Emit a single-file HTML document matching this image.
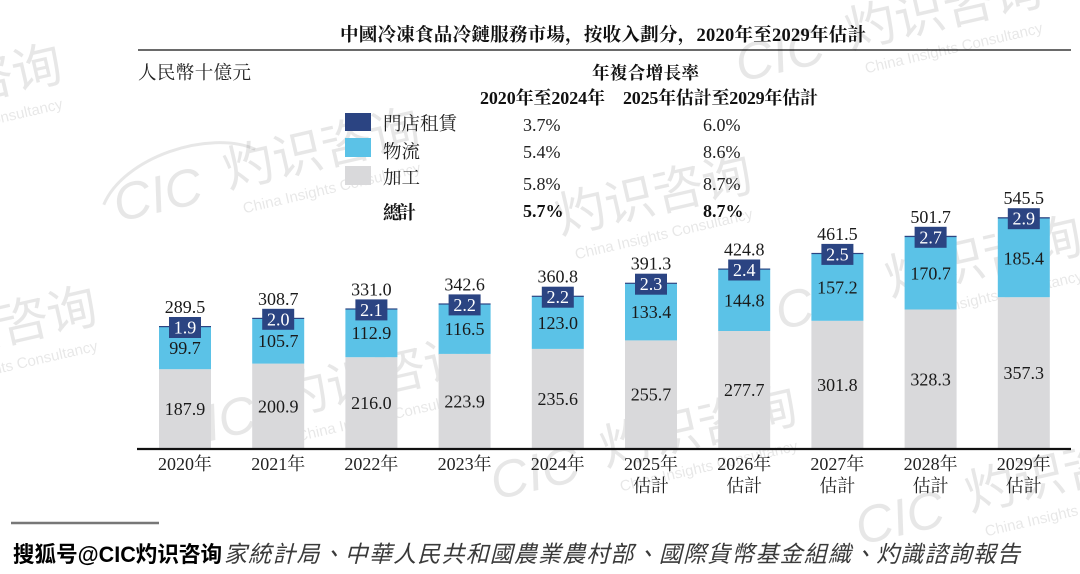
<!DOCTYPE html>
<html>
<head>
<meta charset="utf-8">
<style>
  html, body { margin:0; padding:0; background:#fff; }
  svg { display:block; }
  .serif { font-family: "Liberation Serif", "Noto Serif CJK SC", serif; }
  .sans { font-family: "Liberation Sans", "Noto Sans CJK TC", sans-serif; }
</style>
</head>
<body>
<svg width="1080" height="574" viewBox="0 0 1080 574" xmlns="http://www.w3.org/2000/svg">
  <rect x="0" y="0" width="1080" height="574" fill="#ffffff"/>

  <!-- Title -->
  <text class="serif" x="340" y="41" font-size="18.5" font-weight="bold" fill="#111" textLength="526">中國冷凍食品冷鏈服務市場，按收入劃分，2020年至2029年估計</text>
  <line x1="138" y1="50" x2="1071" y2="50" stroke="#6a6a6a" stroke-width="2"/>

  <text class="serif" x="138" y="79" font-size="18.5" fill="#222" textLength="113">人民幣十億元</text>

  <!-- CAGR header -->
  <text class="serif" x="592" y="79" font-size="17.5" font-weight="bold" fill="#111" textLength="107">年複合增長率</text>
  <text class="serif" x="480" y="104" font-size="18" font-weight="bold" fill="#111" textLength="125">2020年至2024年</text>
  <text class="serif" x="623" y="104" font-size="18" font-weight="bold" fill="#111" textLength="195">2025年估計至2029年估計</text>

  <!-- Watermarks -->
  <g class="sans" fill="#000" fill-opacity="0.095" stroke="none">
    <g transform="translate(118,222) rotate(-13)">
      <text x="0" y="0" font-size="52" font-style="italic">CIC</text>
      <path d="M-10,-20 C20,-62 110,-70 150,-40" fill="none" stroke="#000" stroke-opacity="0.095" stroke-width="3"/>
      <text x="115" y="-8" font-size="50">灼识咨询</text>
      <text x="125" y="20" font-size="15">China Insights Consultancy</text>
    </g>
    <g transform="translate(740,82) rotate(-13)">
      <text x="0" y="0" font-size="52" font-style="italic">CIC</text>
      <text x="115" y="-8" font-size="50">灼识咨询</text>
      <text x="125" y="20" font-size="15">China Insights Consultancy</text>
    </g>
    <g transform="translate(450,268) rotate(-13)">
      <text x="115" y="-8" font-size="50">灼识咨询</text>
      <text x="125" y="20" font-size="15">China Insights Consultancy</text>
    </g>
    <g transform="translate(780,330) rotate(-13)">
      <text x="0" y="0" font-size="52" font-style="italic">CIC</text>
      <text x="115" y="-8" font-size="50">灼识咨询</text>
      <text x="125" y="20" font-size="15">China Insights Consultancy</text>
    </g>
    <g transform="translate(172,450) rotate(-13)">
      <text x="0" y="0" font-size="52" font-style="italic">CIC</text>
      <text x="115" y="-8" font-size="50">灼识咨询</text>
      <text x="125" y="20" font-size="15">China Insights Consultancy</text>
    </g>
    <g transform="translate(495,500) rotate(-13)">
      <text x="0" y="0" font-size="52" font-style="italic">CIC</text>
      <text x="115" y="-8" font-size="50">灼识咨询</text>
      <text x="125" y="20" font-size="15">China Insights Consultancy</text>
    </g>
    <g transform="translate(860,545) rotate(-13)">
      <text x="0" y="0" font-size="52" font-style="italic">CIC</text>
      <text x="115" y="-8" font-size="50">灼识咨询</text>
      <text x="125" y="20" font-size="15">China Insights Consultancy</text>
    </g>
    <g transform="translate(-205,400) rotate(-13)">
      <text x="115" y="-8" font-size="50">灼识咨询</text>
      <text x="125" y="20" font-size="15">China Insights Consultancy</text>
    </g>
    <g transform="translate(-240,158) rotate(-13)">
      <text x="115" y="-8" font-size="50">灼识咨询</text>
      <text x="125" y="20" font-size="15">China Insights Consultancy</text>
    </g>
  </g>

  <!-- Legend -->
  <rect x="345" y="113" width="26" height="18" fill="#2b4482"/>
  <rect x="345" y="138" width="26" height="19" fill="#5bc2e7"/>
  <rect x="345" y="166" width="26" height="19" fill="#d9d9db"/>
  <text class="serif" x="383" y="130" font-size="18.5" fill="#222" textLength="74">門店租賃</text>
  <text class="serif" x="383" y="158" font-size="18.5" fill="#222" textLength="37">物流</text>
  <text class="serif" x="383" y="184" font-size="18.5" fill="#222" textLength="37">加工</text>
  <text class="serif" x="383" y="219" font-size="18.5" font-weight="bold" fill="#111" textLength="33">總計</text>

  <g class="serif" font-size="18" fill="#222">
    <text x="523" y="131">3.7%</text>
    <text x="523" y="158">5.4%</text>
    <text x="523" y="190">5.8%</text>
    <text x="523" y="217" font-weight="bold" fill="#111">5.7%</text>
    <text x="703" y="131">6.0%</text>
    <text x="703" y="158">8.6%</text>
    <text x="703" y="190">8.7%</text>
    <text x="703" y="217" font-weight="bold" fill="#111">8.7%</text>
  </g>

  <!-- Bars -->
  <g>
    <rect x="159" y="369.2" width="52" height="79.8" fill="#d9d9db"/>
    <rect x="159" y="326.8" width="52" height="42.4" fill="#5bc2e7"/>
    <rect x="159" y="326.0" width="52" height="1.2" fill="#2b4482"/>
    <rect x="252.2" y="363.6" width="52" height="85.4" fill="#d9d9db"/>
    <rect x="252.2" y="318.7" width="52" height="44.9" fill="#5bc2e7"/>
    <rect x="252.2" y="317.8" width="52" height="1.2" fill="#2b4482"/>
    <rect x="345.4" y="357.2" width="52" height="91.8" fill="#d9d9db"/>
    <rect x="345.4" y="309.2" width="52" height="48.0" fill="#5bc2e7"/>
    <rect x="345.4" y="308.4" width="52" height="1.2" fill="#2b4482"/>
    <rect x="438.6" y="353.9" width="52" height="95.1" fill="#d9d9db"/>
    <rect x="438.6" y="304.4" width="52" height="49.5" fill="#5bc2e7"/>
    <rect x="438.6" y="303.4" width="52" height="1.2" fill="#2b4482"/>
    <rect x="531.8" y="348.9" width="52" height="100.1" fill="#d9d9db"/>
    <rect x="531.8" y="296.6" width="52" height="52.3" fill="#5bc2e7"/>
    <rect x="531.8" y="295.7" width="52" height="1.2" fill="#2b4482"/>
    <rect x="625" y="340.4" width="52" height="108.6" fill="#d9d9db"/>
    <rect x="625" y="283.7" width="52" height="56.7" fill="#5bc2e7"/>
    <rect x="625" y="282.7" width="52" height="1.2" fill="#2b4482"/>
    <rect x="718.2" y="331.0" width="52" height="118.0" fill="#d9d9db"/>
    <rect x="718.2" y="269.5" width="52" height="61.5" fill="#5bc2e7"/>
    <rect x="718.2" y="268.5" width="52" height="1.2" fill="#2b4482"/>
    <rect x="811.4" y="320.8" width="52" height="128.2" fill="#d9d9db"/>
    <rect x="811.4" y="254.0" width="52" height="66.8" fill="#5bc2e7"/>
    <rect x="811.4" y="252.9" width="52" height="1.2" fill="#2b4482"/>
    <rect x="904.6" y="309.5" width="52" height="139.5" fill="#d9d9db"/>
    <rect x="904.6" y="237.0" width="52" height="72.5" fill="#5bc2e7"/>
    <rect x="904.6" y="235.8" width="52" height="1.3" fill="#2b4482"/>
    <rect x="997.8" y="297.2" width="52" height="151.8" fill="#d9d9db"/>
    <rect x="997.8" y="218.4" width="52" height="78.8" fill="#5bc2e7"/>
    <rect x="997.8" y="217.2" width="52" height="1.3" fill="#2b4482"/>
  </g>

  <!-- Navy label boxes -->
  <g fill="#2b4482">
    <rect x="169" y="317.0" width="32" height="21"/>
    <rect x="262.2" y="308.8" width="32" height="21"/>
    <rect x="355.4" y="299.4" width="32" height="21"/>
    <rect x="448.6" y="294.4" width="32" height="21"/>
    <rect x="541.8" y="286.7" width="32" height="21"/>
    <rect x="635" y="273.7" width="32" height="21"/>
    <rect x="728.2" y="259.5" width="32" height="21"/>
    <rect x="821.4" y="243.9" width="32" height="21"/>
    <rect x="914.6" y="226.8" width="32" height="21"/>
    <rect x="1007.8" y="208.2" width="32" height="21"/>
  </g>
  <g class="serif" font-size="18" fill="#ffffff" text-anchor="middle">
    <text x="185" y="333.5">1.9</text>
    <text x="278.2" y="325.3">2.0</text>
    <text x="371.4" y="315.9">2.1</text>
    <text x="464.6" y="310.9">2.2</text>
    <text x="557.8" y="303.2">2.2</text>
    <text x="651" y="290.2">2.3</text>
    <text x="744.2" y="276.0">2.4</text>
    <text x="837.4" y="260.4">2.5</text>
    <text x="930.6" y="243.3">2.7</text>
    <text x="1023.8" y="224.7">2.9</text>
  </g>

  <!-- Totals -->
  <g class="serif" font-size="18" fill="#1a1a1a" text-anchor="middle">
    <text x="185" y="313">289.5</text>
    <text x="278.2" y="304.8">308.7</text>
    <text x="371.4" y="295.4">331.0</text>
    <text x="464.6" y="290.4">342.6</text>
    <text x="557.8" y="282.7">360.8</text>
    <text x="651" y="269.7">391.3</text>
    <text x="744.2" y="255.5">424.8</text>
    <text x="837.4" y="239.9">461.5</text>
    <text x="930.6" y="222.8">501.7</text>
    <text x="1023.8" y="204.2">545.5</text>
  </g>

  <!-- Blue segment labels -->
  <g class="serif" font-size="18" fill="#1a1a1a" text-anchor="middle">
    <text x="185" y="354">99.7</text>
    <text x="278.2" y="347.2">105.7</text>
    <text x="371.4" y="339.2">112.9</text>
    <text x="464.6" y="335.2">116.5</text>
    <text x="557.8" y="328.8">123.0</text>
    <text x="651" y="318.1">133.4</text>
    <text x="744.2" y="306.3">144.8</text>
    <text x="837.4" y="293.4">157.2</text>
    <text x="930.6" y="279.3">170.7</text>
    <text x="1023.8" y="264.3">185.4</text>
  </g>

  <!-- Gray segment labels -->
  <g class="serif" font-size="18" fill="#1a1a1a" text-anchor="middle">
    <text x="185" y="415">187.9</text>
    <text x="278.2" y="412.3">200.9</text>
    <text x="371.4" y="409.1">216.0</text>
    <text x="464.6" y="407.5">223.9</text>
    <text x="557.8" y="405">235.6</text>
    <text x="651" y="400.7">255.7</text>
    <text x="744.2" y="396">277.7</text>
    <text x="837.4" y="390.9">301.8</text>
    <text x="930.6" y="385.3">328.3</text>
    <text x="1023.8" y="379.1">357.3</text>
  </g>

  <!-- Axis -->
  <line x1="137" y1="449" x2="1071" y2="449" stroke="#111" stroke-width="2.2"/>

  <!-- Category labels -->
  <g class="serif" font-size="18" fill="#222" text-anchor="middle">
    <text x="185" y="470">2020年</text>
    <text x="278.2" y="470">2021年</text>
    <text x="371.4" y="470">2022年</text>
    <text x="464.6" y="470">2023年</text>
    <text x="557.8" y="470">2024年</text>
    <text x="651" y="470">2025年</text>
    <text x="744.2" y="470">2026年</text>
    <text x="837.4" y="470">2027年</text>
    <text x="930.6" y="470">2028年</text>
    <text x="1023.8" y="470">2029年</text>
    <text x="651" y="492">估計</text>
    <text x="744.2" y="492">估計</text>
    <text x="837.4" y="492">估計</text>
    <text x="930.6" y="492">估計</text>
    <text x="1023.8" y="492">估計</text>
  </g>

  <!-- Footer -->
  <line x1="11" y1="523" x2="159" y2="523" stroke="#777" stroke-width="2.5"/>
  <text class="sans" x="224" y="562" font-size="23" font-style="italic" fill="#3a3a3a" textLength="796">家統計局、中華人民共和國農業農村部、國際貨幣基金組織、灼識諮詢報告</text>
  <text class="sans" x="13" y="562" font-size="22" font-weight="bold" fill="#000" stroke="#fff" stroke-width="3" paint-order="stroke" textLength="209" lengthAdjust="spacingAndGlyphs">搜狐号@CIC灼识咨询</text>
</svg>
</body>
</html>
